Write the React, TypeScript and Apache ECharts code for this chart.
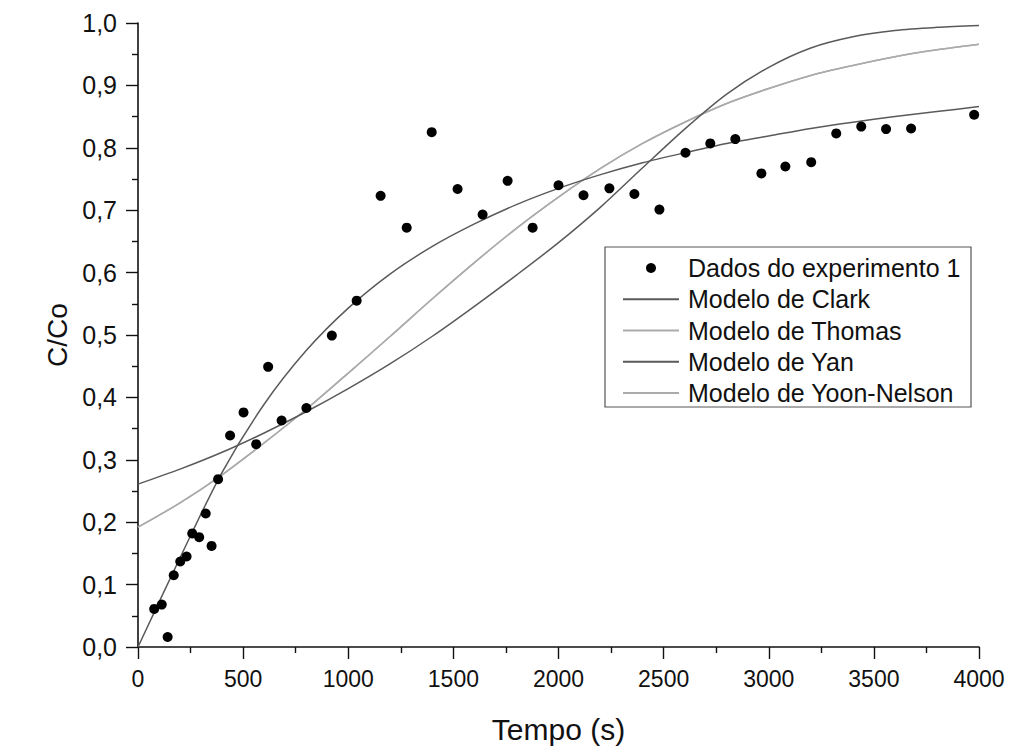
import React, { useEffect, useRef } from "react";
import * as echarts from "echarts";

// Experimental data (Tempo in s, C/Co)
const dataX = [77, 113, 141, 170, 201, 231, 258, 291, 322, 350, 381, 438, 502, 562, 619, 683, 801, 922, 1040, 1154, 1278, 1397, 1520, 1639, 1758, 1877, 2000, 2119, 2242, 2361, 2480, 2604, 2722, 2841, 2965, 3079, 3202, 3321, 3440, 3558, 3677, 3977];
const dataY = [0.061, 0.068, 0.016, 0.115, 0.137, 0.145, 0.182, 0.176, 0.214, 0.162, 0.269, 0.339, 0.376, 0.325, 0.449, 0.363, 0.383, 0.499, 0.555, 0.723, 0.672, 0.825, 0.734, 0.693, 0.747, 0.672, 0.740, 0.724, 0.735, 0.726, 0.701, 0.792, 0.807, 0.814, 0.759, 0.770, 0.777, 0.823, 0.834, 0.830, 0.831, 0.853];

// Model curves
const modelX = [0, 200, 400, 600, 800, 1000, 1200, 1400, 1600, 1800, 2000, 2200, 2400, 2600, 2800, 3000, 3200, 3400, 3600, 3800, 4000];
const clark = [0.261, 0.285, 0.312, 0.343, 0.377, 0.414, 0.454, 0.498, 0.546, 0.596, 0.648, 0.705, 0.768, 0.830, 0.886, 0.929, 0.960, 0.978, 0.988, 0.993, 0.996];
const thomas = [0.192, 0.231, 0.276, 0.327, 0.381, 0.439, 0.498, 0.558, 0.616, 0.671, 0.721, 0.767, 0.807, 0.841, 0.871, 0.895, 0.916, 0.932, 0.946, 0.957, 0.966];
const yan = [0.0, 0.143, 0.280, 0.389, 0.475, 0.543, 0.598, 0.642, 0.678, 0.709, 0.735, 0.757, 0.776, 0.792, 0.807, 0.819, 0.831, 0.841, 0.850, 0.858, 0.866];
const yoonNelson = [0.192, 0.231, 0.276, 0.327, 0.381, 0.439, 0.498, 0.558, 0.616, 0.671, 0.721, 0.767, 0.807, 0.841, 0.871, 0.895, 0.916, 0.932, 0.946, 0.957, 0.966];

const xTicks = { min: 0, max: 4000, interval: 500 };
const yTicks = { min: 0, max: 1, interval: 0.1 };

const FONT = "'Liberation Sans', Arial, sans-serif";
const DARK = "#5a5a5a";
const LIGHT = "#ababab";
const NO_DOT = { color: "rgba(0,0,0,0)", borderColor: "rgba(0,0,0,0)", borderWidth: 0, opacity: 0 };

const pairs = (xs: number[], ys: number[]) => xs.map((x, i) => [x, ys[i]]);

export default function App() {
  const ref = useRef<HTMLDivElement>(null);
  useEffect(() => {
    document.body.style.margin = "0";
    if (!ref.current) return;
    const chart = echarts.init(ref.current, undefined, { renderer: "svg" });
    const axisCommon = {
      axisLine: { show: true, lineStyle: { color: "#111", width: 1.6 } },
      axisTick: { show: true, inside: false, length: 12, lineStyle: { color: "#111", width: 1.4 } },
      minorTick: { show: true, splitNumber: 2, length: 6, lineStyle: { color: "#111", width: 1.4 } },
      splitLine: { show: false },
      minorSplitLine: { show: false },
    };
    chart.setOption({
      animation: false,
      backgroundColor: "#fff",
      textStyle: { fontFamily: FONT },
      grid: { left: 138, right: 35, top: 23, bottom: 109, containLabel: false },
      xAxis: {
        type: "value",
        ...xTicks,
        ...axisCommon,
        name: "Tempo (s)",
        nameLocation: "middle",
        nameGap: 67,
        nameTextStyle: { fontSize: 30, color: "#111", fontFamily: FONT },
        axisLabel: {
          fontSize: 23,
          color: "#111",
          margin: 20,
          fontFamily: FONT,
          formatter: (v: number) => String(v),
        },
      },
      yAxis: {
        type: "value",
        ...yTicks,
        ...axisCommon,
        name: "C/Co",
        nameLocation: "middle",
        nameGap: 62,
        nameTextStyle: { fontSize: 28, color: "#111", fontFamily: FONT },
        axisLabel: {
          fontSize: 25,
          color: "#111",
          margin: 21,
          fontFamily: FONT,
          formatter: (v: number) => v.toFixed(1).replace(".", ","),
        },
      },
      legend: {
        orient: "vertical",
        left: 622,
        top: 255,
        itemWidth: 56,
        itemHeight: 10,
        itemGap: 5.25,
        padding: 0,
        z: 20,
        textStyle: { fontSize: 25, lineHeight: 26, color: "#111", fontFamily: FONT, padding: [0, 0, 0, 4] },
        data: [
          { name: "Dados do experimento 1", icon: "circle" },
          { name: "Modelo de Clark", itemStyle: NO_DOT },
          { name: "Modelo de Thomas", itemStyle: NO_DOT },
          { name: "Modelo de Yan", itemStyle: NO_DOT },
          { name: "Modelo de Yoon-Nelson", itemStyle: NO_DOT },
        ],
      },
      graphic: [
        {
          type: "rect",
          shape: { x: 605, y: 247, width: 366, height: 160 },
          style: { fill: "#fff", stroke: "#555", lineWidth: 1.2 },
          z: 1,
        },
      ],
      series: [
        {
          name: "Dados do experimento 1",
          type: "scatter",
          data: pairs(dataX, dataY),
          symbol: "circle",
          symbolSize: 10,
          itemStyle: { color: "#000", opacity: 1 },
          z: 10,
        },
        {
          name: "Modelo de Clark",
          type: "line",
          data: pairs(modelX, clark),
          smooth: 0.3,
          symbol: "none",
          showSymbol: false,
          lineStyle: { color: DARK, width: 1.5 },
          itemStyle: { color: DARK },
          z: 3,
        },
        {
          name: "Modelo de Thomas",
          type: "line",
          data: pairs(modelX, thomas),
          smooth: 0.3,
          symbol: "none",
          showSymbol: false,
          lineStyle: { color: LIGHT, width: 1.5 },
          itemStyle: { color: LIGHT },
          z: 2,
        },
        {
          name: "Modelo de Yan",
          type: "line",
          data: pairs(modelX, yan),
          smooth: 0.3,
          symbol: "none",
          showSymbol: false,
          lineStyle: { color: DARK, width: 1.5 },
          itemStyle: { color: DARK },
          z: 3,
        },
        {
          name: "Modelo de Yoon-Nelson",
          type: "line",
          data: pairs(modelX, yoonNelson),
          smooth: 0.3,
          symbol: "none",
          showSymbol: false,
          lineStyle: { color: LIGHT, width: 1.5 },
          itemStyle: { color: LIGHT },
          z: 2,
        },
      ],
    });
    return () => chart.dispose();
  }, []);
  return <div ref={ref} style={{ width: 1014, height: 756 }} />;
}
